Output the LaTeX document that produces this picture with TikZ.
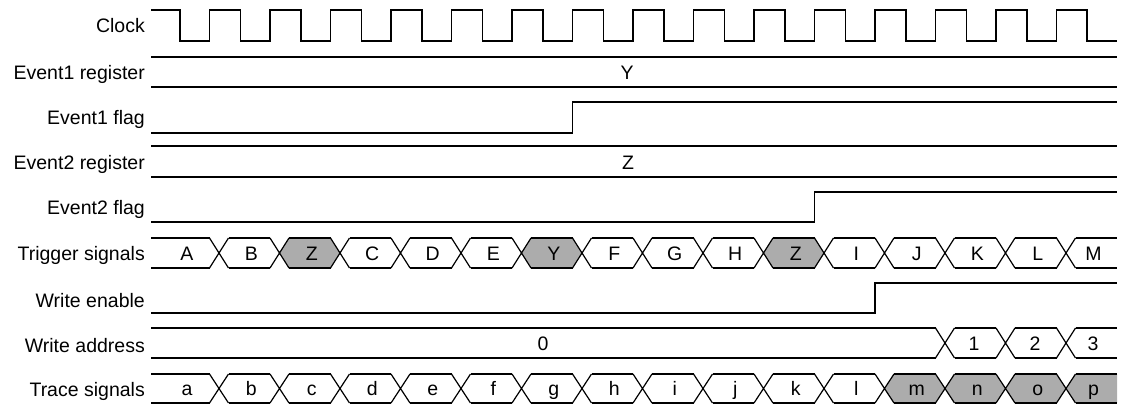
\documentclass[tikz,border=0pt]{standalone}
\usepackage{fontspec}
\setmainfont{Liberation Sans}
\usepackage{xcolor}
\usetikzlibrary{positioning, backgrounds}
\definecolor{dotgray}{RGB}{172,172,172}

\begin{document}
\begin{tikzpicture}[x=1pt, y=-1pt,
  wave/.style={line width=1.2pt},
  signame/.style={anchor=east, font=\fontsize{19.5}{22}\selectfont, inner sep=0pt, text height=14pt, text depth=0pt},
  sigval/.style={font=\fontsize{19.5}{22}\selectfont, inner sep=0pt, text height=14pt, text depth=0pt}]
  \useasboundingbox (0,0) rectangle (1121,405);

  % signal names
  \node[signame] (clk)   at (145,25)  {Clock};
  \node[signame] (ev1r)  at (145,72)  {Event1 register};
  \node[signame] (ev1f)  at (145,117) {Event1 flag};
  \node[signame] (ev2r)  at (145,162) {Event2 register};
  \node[signame] (ev2f)  at (145,207) {Event2 flag};
  \node[signame] (trig)  at (145,253) {Trigger signals};
  \node[signame] (wren)  at (145,300) {Write enable};
  \node[signame] (wradr) at (145,345) {Write address};
  \node[signame] (trace) at (145,389) {Trace signals};

  % clock
  \draw[wave] (151,10) foreach \k in {0,...,14} {-- ({180+60.5*\k},10) -- ++(0,31) -- ++(29.5,0) -- ++(0,-31)}
    -- (1087,10) -- ++(0,31) -- (1117,41);

  % event registers and flags
  \draw[wave] (151,57) -- (1117,57) (151,87) -- (1117,87);
  \node[sigval] (ev1val) at (627,72) {Y};
  \draw[wave] (151,133) -- (572.5,133) -- (572.5,102) -- (1117,102);
  \draw[wave] (151,146) -- (1117,146) (151,177) -- (1117,177);
  \node[sigval] (ev2val) at (628,162) {Z};
  \draw[wave] (151,222) -- (814.5,222) -- (814.5,192) -- (1117,192);

  % write enable
  \draw[wave] (151,313) -- (875,313) -- (875,283) -- (1117,283);

  % trigger signals
  \foreach \txt/\hl [count=\i from 0] in {A/0,B/0,Z/1,C/0,D/0,E/0,Y/1,F/0,G/0,H/0,Z/1,I/0,J/0,K/0,L/0,M/0} {
    \pgfmathsetmacro{\lx}{\i==0 ? 151 : 219+60.5*(\i-1)}
    \pgfmathsetmacro{\rx}{\i==15 ? 1117 : 219+60.5*\i}
    \pgfmathsetmacro{\lh}{\i==0 ? 0 : 9.5}
    \pgfmathsetmacro{\rh}{\i==15 ? 0 : 9.5}
    \ifnum\hl=1
      \begin{scope}[on background layer]
        \fill[dotgray] (\lx,253) -- (\lx+\lh,238) -- (\rx-\rh,238) -- (\rx,253) -- (\rx-\rh,268) -- (\lx+\lh,268) -- cycle;
      \end{scope}
    \fi
    \draw[wave] (\lx+\lh,238) -- (\rx-\rh,238) (\lx+\lh,268) -- (\rx-\rh,268);
    \ifnum\i<15
      \draw[wave] (\rx-9.5,238) -- (\rx+9.5,268) (\rx-9.5,268) -- (\rx+9.5,238);
    \fi
    \node[sigval] (trig\i) at ({(\lx+\rx)/2+2},253) {\txt};
  }

  % write address
  \foreach \txt/\lx/\rx/\tx [count=\i from 0] in {0/151/945/543,1/945/1005.5/974,2/1005.5/1066/1035,3/1066/1117/1093} {
    \pgfmathsetmacro{\lh}{\i==0 ? 0 : 9.5}
    \pgfmathsetmacro{\rh}{\i==3 ? 0 : 9.5}
    \draw[wave] (\lx+\lh,328) -- (\rx-\rh,328) (\lx+\lh,358) -- (\rx-\rh,358);
    \ifnum\i<3
      \draw[wave] (\rx-9.5,328) -- (\rx+9.5,358) (\rx-9.5,358) -- (\rx+9.5,328);
    \fi
    \node[sigval] (adr\i) at (\tx,343) {\txt};
  }

  % trace signals
  \foreach \txt/\hl [count=\i from 0] in {a/0,b/0,c/0,d/0,e/0,f/0,g/0,h/0,i/0,j/0,k/0,l/0,m/1,n/1,o/1,p/1} {
    \pgfmathsetmacro{\lx}{\i==0 ? 151 : 219+60.5*(\i-1)}
    \pgfmathsetmacro{\rx}{\i==15 ? 1117 : 219+60.5*\i}
    \pgfmathsetmacro{\lh}{\i==0 ? 0 : 9.5}
    \pgfmathsetmacro{\rh}{\i==15 ? 0 : 9.5}
    \ifnum\hl=1
      \begin{scope}[on background layer]
        \fill[dotgray] (\lx,388.5) -- (\lx+\lh,374) -- (\rx-\rh,374) -- (\rx,388.5) -- (\rx-\rh,403) -- (\lx+\lh,403) -- cycle;
      \end{scope}
    \fi
    \draw[wave] (\lx+\lh,374) -- (\rx-\rh,374) (\lx+\lh,403) -- (\rx-\rh,403);
    \ifnum\i<15
      \draw[wave] (\rx-9.5,374) -- (\rx+9.5,403) (\rx-9.5,403) -- (\rx+9.5,374);
    \fi
    \node[sigval] (tr\i) at ({(\lx+\rx)/2+2},388.5) {\txt};
  }
\end{tikzpicture}
\end{document}
